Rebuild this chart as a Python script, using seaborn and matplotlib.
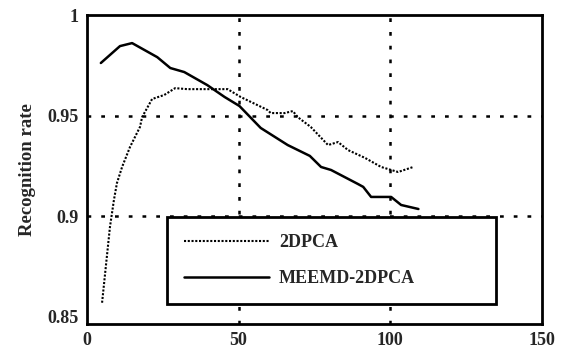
import matplotlib
matplotlib.use("Agg")
import matplotlib.pyplot as plt
import pandas as pd
import seaborn as sns

# values
x_2dpca = [5.0, 7.6, 8.9, 9.9, 11.6, 14.2, 17.5, 18.2, 21.5, 25.5, 29.1, 33.1,
           46.4, 50.7, 59.6, 60.6, 65.2, 67.9, 69.5, 73.8, 79.5, 82.8, 86.1,
           91.7, 97.0, 102.6, 107.6]
y_2dpca = [0.857, 0.8947, 0.908, 0.9165, 0.9245, 0.9344, 0.9444, 0.9493,
           0.9583, 0.9603, 0.9637, 0.9632, 0.9632, 0.9593, 0.9528, 0.9513,
           0.9513, 0.9523, 0.9493, 0.9444, 0.9354, 0.9369, 0.9329, 0.9290,
           0.9245, 0.9220, 0.9245]

x_meemd = [4.6, 10.9, 14.9, 23.2, 27.5, 32.1, 39.7, 45.4, 50.3, 57.3, 66.2,
           73.5, 77.2, 80.5, 89.4, 91.1, 93.7, 100.3, 103.6, 109.3]
y_meemd = [0.9762, 0.9846, 0.9861, 0.9791, 0.9737, 0.9717, 0.9652, 0.9593,
           0.9548, 0.9439, 0.9354, 0.9300, 0.9245, 0.9230, 0.9160, 0.9146,
           0.9096, 0.9096, 0.9056, 0.9036]

x_ticks = [0, 50, 100, 150]
y_ticks = [0.85, 0.9, 0.95, 1.0]
y_ticklabels = ["0.85", "0.9", "0.95", "1"]
labels = ["2DPCA", "MEEMD-2DPCA"]

sns.set_style("white")
plt.rcParams["font.family"] = ["Liberation Serif", "DejaVu Serif"]
plt.rcParams["font.weight"] = "bold"

fig = plt.figure(figsize=(5.68, 3.52), dpi=100)
ax = fig.add_axes([0.153, 0.08, 0.801, 0.877])

df1 = pd.DataFrame({"x": x_2dpca, "y": y_2dpca})
df2 = pd.DataFrame({"x": x_meemd, "y": y_meemd})
sns.lineplot(data=df1, x="x", y="y", ax=ax, color="black", lw=1.5,
             linestyle=(0, (1, 0.8)), label=labels[0])
sns.lineplot(data=df2, x="x", y="y", ax=ax, color="black", lw=1.8,
             label=labels[1])

# grid lines only at the inner ticks
for gx in [50, 100]:
    ax.axvline(gx, color="black", lw=1.8, linestyle=(0, (1.5, 4)), zorder=0)
for gy in [0.9, 0.95]:
    ax.axhline(gy, color="black", lw=1.8, linestyle=(0, (1.5, 4)), zorder=0)

ax.set_xlim(0, 150)
ax.set_ylim(0.8465, 1.0)
ax.set_xticks(x_ticks)
ax.set_yticks(y_ticks)
ax.set_yticklabels(y_ticklabels)
ax.tick_params(length=0, labelsize=13, pad=6)
for t in ax.get_xticklabels() + ax.get_yticklabels():
    t.set_fontweight("bold")
ax.set_xlabel("")
ax.set_ylabel("Recognition rate", fontsize=13.5, fontweight="bold", labelpad=8)

for s in ax.spines.values():
    s.set_color("black")
    s.set_linewidth(2)

leg = ax.legend(loc="upper left", bbox_to_anchor=(0.176, 0.346, 0.723, 0.0),
                mode="expand", borderaxespad=0, fancybox=False, framealpha=1,
                edgecolor="black", handlelength=4.7, handletextpad=0.55,
                labelspacing=1.05, borderpad=0.95,
                prop={"size": 13, "weight": "bold"})
leg.get_frame().set_linewidth(2)

fig.savefig("out.png", dpi=100)
